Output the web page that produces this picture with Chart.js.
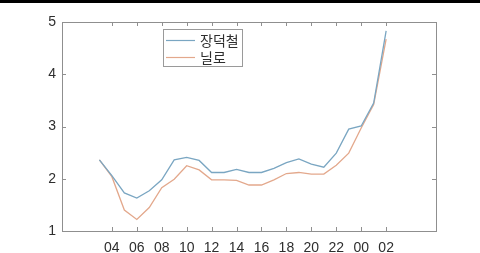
<!DOCTYPE html>
<html>
<head>
<meta charset="utf-8">
<script src="https://cdn.jsdelivr.net/npm/chart.js@4"></script>
<style>
    html, body { margin: 0; padding: 0; background: #fff; }
    #wrap { width: 480px; height: 253px; position: relative; }
</style>
</head>
<body>
<div id="wrap"><canvas id="chart" width="480" height="253"></canvas></div>
<script>
// Data (hour index: 3 = 03h ... 26 = 02h next day)
const startHour = 3;
const seriesNames = ['장덕철', '닐로'];
const jangValues = [2.36, 2.06, 1.73, 1.63, 1.77, 1.98, 2.36, 2.41, 2.35, 2.12, 2.12, 2.18,
                    2.12, 2.12, 2.20, 2.31, 2.38, 2.28, 2.22, 2.49, 2.95, 3.01, 3.45, 4.83];
const niloValues = [2.36, 2.04, 1.40, 1.22, 1.45, 1.83, 1.99, 2.25, 2.17, 1.98, 1.98, 1.97,
                    1.88, 1.88, 1.98, 2.10, 2.12, 2.09, 2.09, 2.26, 2.49, 2.97, 3.42, 4.67];
const xTickLabels = ['04', '06', '08', '10', '12', '14', '16', '18', '20', '22', '00', '02'];
const yTickValues = [1, 2, 3, 4, 5];

const colors = ['#7aa6c2', '#e3a88c'];
const axisColor = '#8f8f8f';
const textColor = '#2e2e2e';

function toPoints(values) {
    return values.map((v, i) => ({ x: startHour + i, y: v }));
}

// x tick positions follow the label list: first label at hour 4, every 2 hours
const xTickValues = xTickLabels.map((_, i) => 4 + 2 * i);

// Box, inward tick marks, legend, top bar
const matlabStyle = {
    id: 'matlabStyle',
    afterDraw(chart) {
        const ctx = chart.ctx;
        const a = chart.chartArea;
        const xs = chart.scales.x;
        const ys = chart.scales.y;
        ctx.save();

        // top black bar
        ctx.fillStyle = '#000';
        ctx.fillRect(0, 0, chart.width, 3);

        // axes box
        ctx.strokeStyle = axisColor;
        ctx.lineWidth = 1;
        ctx.strokeRect(Math.round(a.left) + 0.5, Math.round(a.top) + 0.5,
            Math.round(a.right - a.left), Math.round(a.bottom - a.top));

        // inward ticks
        const len = 4;
        ctx.beginPath();
        xTickValues.forEach(v => {
            const px = Math.round(xs.getPixelForValue(v)) + 0.5;
            ctx.moveTo(px, a.bottom); ctx.lineTo(px, a.bottom - len);
            ctx.moveTo(px, a.top); ctx.lineTo(px, a.top + len);
        });
        yTickValues.forEach(v => {
            const py = Math.round(ys.getPixelForValue(v)) + 0.5;
            ctx.moveTo(a.left, py); ctx.lineTo(a.left + len, py);
            ctx.moveTo(a.right, py); ctx.lineTo(a.right - len, py);
        });
        ctx.stroke();

        // legend
        const lx = 163, ly = 29, lw = 79, lh = 37;
        ctx.fillStyle = '#fff';
        ctx.fillRect(lx, ly, lw, lh);
        ctx.strokeStyle = '#9a9a9a';
        ctx.strokeRect(lx + 0.5, ly + 0.5, lw, lh);
        ctx.font = '14px "Noto Sans CJK KR", sans-serif';
        ctx.textBaseline = 'middle';
        chart.data.datasets.forEach((ds, i) => {
            const y = ly + 11 + i * 16.5;
            ctx.strokeStyle = ds.borderColor;
            ctx.lineWidth = 1.2;
            ctx.beginPath();
            ctx.moveTo(lx + 3, Math.round(y) + 0.5);
            ctx.lineTo(lx + 32, Math.round(y) + 0.5);
            ctx.stroke();
            ctx.fillStyle = textColor;
            ctx.fillText(ds.label, lx + 37, y + 1);
        });
        ctx.restore();
    }
};

new Chart(document.getElementById('chart'), {
    type: 'line',
    data: {
        datasets: [
            { label: seriesNames[0], data: toPoints(jangValues), borderColor: colors[0] },
            { label: seriesNames[1], data: toPoints(niloValues), borderColor: colors[1] }
        ]
    },
    options: {
        responsive: false,
        animation: false,
        events: [],
        layout: { padding: { top: 22, right: 44, left: 0, bottom: 0 } },
        elements: {
            line: { borderWidth: 1.3, tension: 0, fill: false },
            point: { radius: 0 }
        },
        plugins: {
            legend: { display: false },
            tooltip: { enabled: false }
        },
        scales: {
            x: {
                type: 'linear',
                min: 0,
                max: 30,
                afterBuildTicks: scale => { scale.ticks = xTickValues.map(v => ({ value: v })); },
                afterFit: scale => { scale.height = 22; },
                grid: { display: false, drawTicks: false },
                border: { display: false },
                ticks: {
                    padding: 9,
                    maxRotation: 0,
                    autoSkip: false,
                    color: textColor,
                    font: { family: '"Liberation Sans", Arial, sans-serif', size: 14 },
                    callback: v => xTickLabels[xTickValues.indexOf(v)]
                }
            },
            y: {
                min: 1,
                max: 5,
                afterBuildTicks: scale => { scale.ticks = yTickValues.map(v => ({ value: v })); },
                afterFit: scale => { scale.width = 62; },
                grid: { display: false, drawTicks: false },
                border: { display: false },
                ticks: {
                    padding: 6,
                    color: textColor,
                    font: { family: '"Liberation Sans", Arial, sans-serif', size: 14 }
                }
            }
        }
    },
    plugins: [matlabStyle]
});
</script>
</body>
</html>
